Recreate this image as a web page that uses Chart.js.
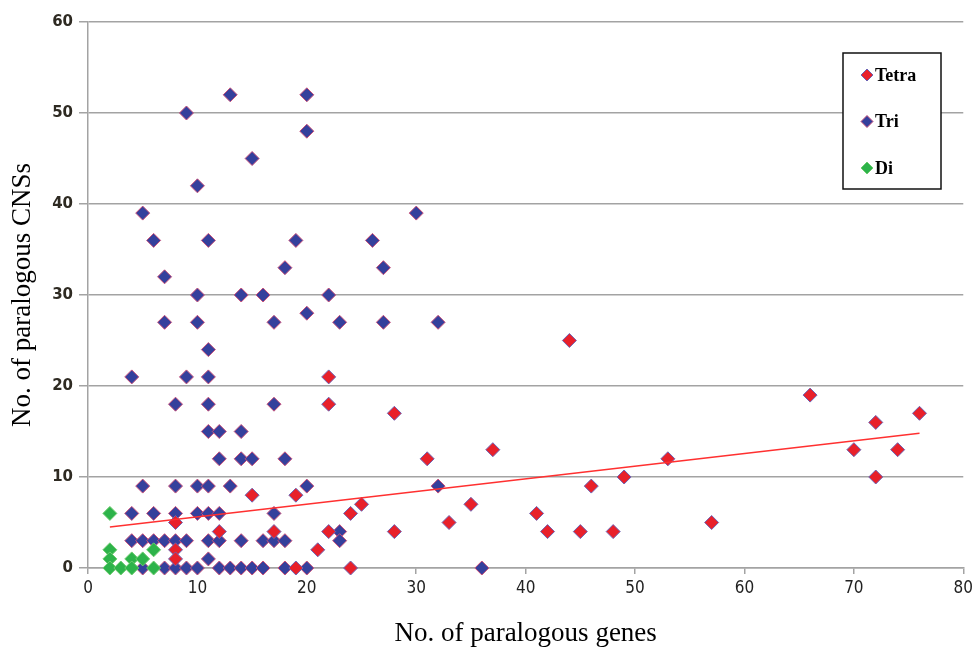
<!DOCTYPE html>
<html>
<head>
<meta charset="utf-8">
<script src="https://cdn.jsdelivr.net/npm/chart.js@4.4.0/dist/chart.umd.min.js"></script>
<style>
  html, body { margin: 0; padding: 0; background: #fff; }
  #wrap { width: 977px; height: 647px; }
</style>
</head>
<body>
<div id="wrap"><canvas id="chart" width="977" height="647"></canvas></div>
<script>
// Paralogous genes vs paralogous CNSs.

const tetraX = [
  44, 22, 66, 22, 28, 76, 72, 37, 70, 74,
  31, 53, 49, 72, 46, 15, 19, 25, 35, 24,
  41, 8, 33, 57, 12, 17, 22, 28, 42, 45,
  48, 8, 21, 8, 19, 24,
];
const tetraY = [
  25, 21, 19, 18, 17, 17, 16, 13, 13, 13,
  12, 12, 10, 10, 9, 8, 8, 7, 7, 6,
  6, 5, 5, 5, 4, 4, 4, 4, 4, 4,
  4, 2, 2, 1, 0, 0,
];

const triX = [
  13, 20,
  9,
  20,
  15,
  10,
  5, 30,
  6, 11, 19, 26,
  18, 27,
  7,
  10, 14, 16, 22,
  20,
  7, 10, 17, 23, 27, 32,
  11,
  4, 9, 11,
  8, 11, 17,
  11, 12, 14,
  12, 14, 15, 18,
  5, 8, 10, 11, 13, 20, 32,
  4, 6, 8, 10, 11, 12, 17,
  23,
  4, 5, 6, 7, 8, 9, 11, 12, 14, 16, 17, 18, 23,
  11,
  5, 7, 8, 9, 10, 12, 13, 14, 15, 16, 18, 20, 36,
];
const triY = [
  52, 52,
  50,
  48,
  45,
  42,
  39, 39,
  36, 36, 36, 36,
  33, 33,
  32,
  30, 30, 30, 30,
  28,
  27, 27, 27, 27, 27, 27,
  24,
  21, 21, 21,
  18, 18, 18,
  15, 15, 15,
  12, 12, 12, 12,
  9, 9, 9, 9, 9, 9, 9,
  6, 6, 6, 6, 6, 6, 6,
  4,
  3, 3, 3, 3, 3, 3, 3, 3, 3, 3, 3, 3, 3,
  1,
  0, 0, 0, 0, 0, 0, 0, 0, 0, 0, 0, 0, 0,
];

const diX = [2, 2, 6, 2, 4, 5, 2, 3, 4, 6];
const diY = [6, 2, 2, 1, 1, 1, 0, 0, 0, 0];

// linear trendline, end points as drawn in the figure
const trendX = [2, 76];
const trendY = [4.5, 14.8];

const X_TICKS = [0, 10, 20, 30, 40, 50, 60, 70, 80];
const Y_TICKS = [0, 10, 20, 30, 40, 50, 60];

const C = {
  red:      "#E8202A",
  redEdge:  "#6C63B4",
  blue:     "#34409C",
  blueEdge: "#C8507A",
  green:    "#2DB34A",
  greenEdge:"#6CCB6E",
  trend:    "#FF3030",
  grid:     "#A3A3A3",
};

const SERIES = [
  { label: "Tetra", xs: tetraX, ys: tetraY, fill: C.red,   edge: C.redEdge },
  { label: "Tri",   xs: triX,   ys: triY,   fill: C.blue,  edge: C.blueEdge },
  { label: "Di",    xs: diX,    ys: diY,    fill: C.green, edge: C.greenEdge },
];

function pts(xs, ys) {
  return xs.map((x, i) => ({ x, y: ys[i] }));
}

function diamond(ctx, x, y, r) {
  ctx.beginPath();
  ctx.moveTo(x - r, y);
  ctx.lineTo(x, y - r);
  ctx.lineTo(x + r, y);
  ctx.lineTo(x, y + r);
  ctx.closePath();
}

// boxed legend sitting inside the plot, top right
const legendBox = {
  id: "legendBox",
  afterDraw(chart) {
    const ctx = chart.ctx;
    ctx.save();
    ctx.fillStyle = "#fff";
    ctx.fillRect(843, 53, 98, 136);
    ctx.strokeStyle = "#111";
    ctx.lineWidth = 1.5;
    ctx.strokeRect(843, 53, 98, 136);
    ctx.font = "bold 18px 'Liberation Serif', 'Times New Roman', serif";
    ctx.textBaseline = "middle";
    SERIES.forEach((s, i) => {
      const y = 75 + i * 46.5;
      diamond(ctx, 867, y, 6);
      ctx.fillStyle = s.fill;
      ctx.fill();
      ctx.lineWidth = 1;
      ctx.strokeStyle = s.edge;
      ctx.stroke();
      ctx.fillStyle = "#000";
      ctx.fillText(s.label, 875, y + 1);
    });
    ctx.restore();
  },
};

const pointDataset = (s) => ({
  type: "scatter",
  label: s.label,
  data: pts(s.xs, s.ys),
  clip: false,
  pointStyle: "rectRot",
  pointRadius: 7,
  pointHoverRadius: 7,
  backgroundColor: s.fill,
  borderColor: s.edge,
  borderWidth: 1,
});

new Chart(document.getElementById("chart"), {
  type: "scatter",
  data: {
    datasets: [
      {
        type: "line",
        label: "trend",
        data: pts(trendX, trendY),
        borderColor: C.trend,
        borderWidth: 1.6,
        pointRadius: 0,
        fill: false,
      },
      pointDataset(SERIES[2]),
      pointDataset(SERIES[0]),
      pointDataset(SERIES[1]),
    ],
  },
  options: {
    responsive: false,
    animation: false,
    layout: { padding: { top: 22, right: 12, bottom: 0, left: 0 } },
    plugins: {
      legend: { display: false },
      tooltip: { enabled: false },
    },
    scales: {
      x: {
        type: "linear",
        min: 0,
        max: 80,
        afterBuildTicks: (s) => { s.ticks = X_TICKS.map((v) => ({ value: v })); },
        afterFit: (s) => { s.height = 79; },
        ticks: {
          color: "#222",
          padding: 4,
          maxRotation: 0,
          font: { family: "'Liberation Sans Narrow', 'DejaVu Sans Condensed', 'Liberation Sans', sans-serif", size: 17 },
        },
        grid: { drawOnChartArea: false, tickLength: 6, color: C.grid, lineWidth: 1.5 },
        border: { color: C.grid, width: 1.5 },
        title: {
          display: true,
          text: "No. of paralogous genes",
          color: "#000",
          padding: { top: 0, bottom: 0 },
          font: { family: "'Liberation Serif', 'Times New Roman', serif", size: 27, lineHeight: 1 },
        },
      },
      y: {
        type: "linear",
        min: 0,
        max: 60,
        afterBuildTicks: (s) => { s.ticks = Y_TICKS.map((v) => ({ value: v })); },
        afterFit: (s) => { s.width = 88; },
        ticks: {
          color: "#2E2A22",
          padding: 6,
          font: { family: "'DejaVu Sans', Verdana, sans-serif", size: 15, weight: "bold" },
        },
        grid: { tickLength: 9, color: C.grid, lineWidth: 1.5 },
        border: { color: C.grid, width: 1.5 },
        title: {
          display: true,
          text: "No. of paralogous CNSs",
          color: "#000",
          padding: { top: 9, bottom: 0 },
          font: { family: "'Liberation Serif', 'Times New Roman', serif", size: 27, lineHeight: 1 },
        },
      },
    },
  },
  plugins: [legendBox],
});
</script>
</body>
</html>
